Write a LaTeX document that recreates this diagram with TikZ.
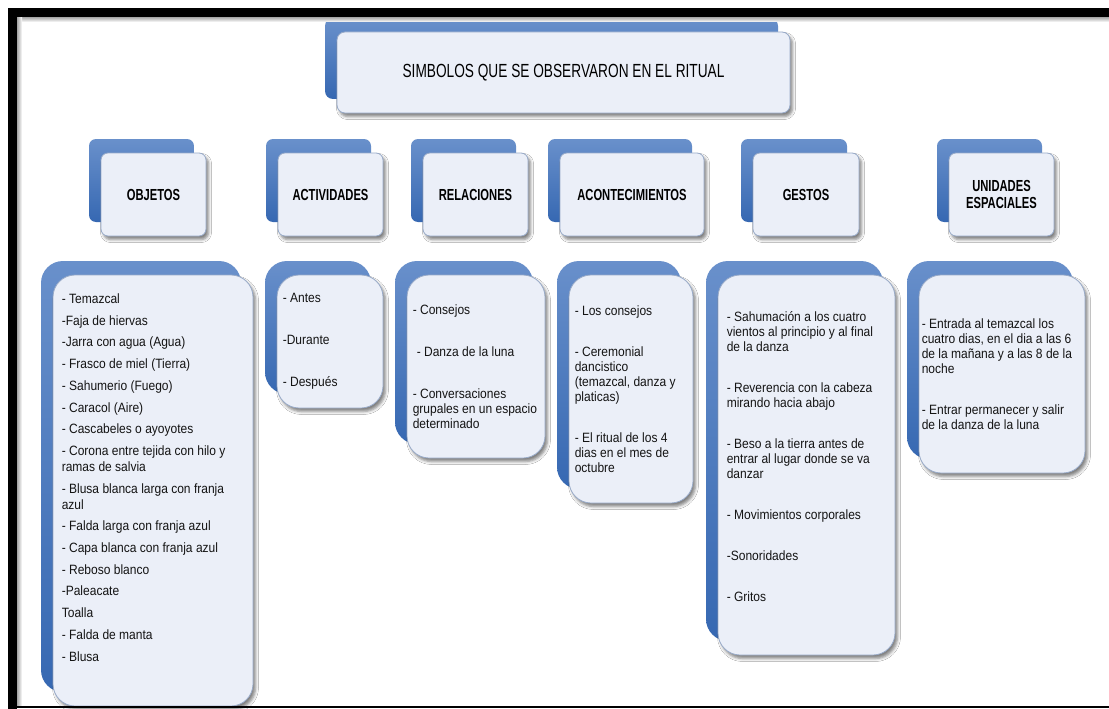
\documentclass[tikz,border=0pt]{standalone}
\usepackage{fontspec}
\setmainfont{Liberation Sans}
\newfontfamily\headfont{Liberation Sans}[FakeStretch=0.72]
\newfontfamily\labelfont{Liberation Sans}[FakeStretch=0.70]
\newfontfamily\listfont{Liberation Sans}[FakeStretch=0.89]
\usetikzlibrary{shadows.blur}

\definecolor{backtop}{HTML}{6990CB}
\definecolor{backbot}{HTML}{3668B2}
\definecolor{frontfill}{HTML}{EBEFF8}
\definecolor{frontline}{HTML}{98AAC8}
\definecolor{connc}{HTML}{A3B5D3}
\definecolor{listc}{HTML}{141414}

\pgfdeclarelayer{bg}
\pgfsetlayers{bg,main}

\tikzset{
  conn/.style={draw=connc, line width=0.9pt},
  backbox/.style={shade, top color=backtop, bottom color=backbot, draw=none, inner sep=0pt},
  frontbox/.style={fill=frontfill, draw=frontline, line width=0.8pt, inner sep=0pt,
    blur shadow={shadow xshift=2.5pt, shadow yshift=-3.5pt, shadow blur radius=3pt, shadow opacity=50}},
  hdtext/.style={font=\headfont\fontsize{19}{22}\selectfont, text=black},
  cattext/.style={font=\labelfont\bfseries\fontsize{16}{17.5}\selectfont, align=center, text=black},
  listtext/.style={font=\listfont\fontsize{13.5}{15}\selectfont, align=left, anchor=west,
    inner sep=0pt, text=listc},
}

% back panel + front panel pair: name, x1, y1, x2, y2, corner radius, front style, text
\newcommand\boxpair[8]{%
  \node[backbox, rounded corners=#6, minimum width={#4pt-#2pt}, minimum height={#5pt-#3pt}]
    (#1b) at ({(#2+#4)/2-12},{(#3+#5)/2-14}) {};
  \node[frontbox, rounded corners=#6, minimum width={#4pt-#2pt}, minimum height={#5pt-#3pt}, #7]
    (#1) at ({(#2+#4)/2},{(#3+#5)/2}) {#8};
}

\begin{document}
\begin{tikzpicture}[x=1pt,y=-1pt]
\useasboundingbox (0,0) rectangle (1109,709);
\fill[white] (0,0) rectangle (1109,709);

% title
\boxpair{hd}{337}{32}{790}{113}{8pt}{hdtext}{SIMBOLOS QUE SE OBSERVARON EN EL RITUAL}

% categories
\boxpair{obj}{101}{153}{206}{236}{7pt}{cattext}{OBJETOS}
\boxpair{act}{278}{153}{383}{236}{7pt}{cattext}{ACTIVIDADES}
\boxpair{rel}{423}{153}{528}{236}{7pt}{cattext}{RELACIONES}
\boxpair{aco}{560}{153}{704}{236}{7pt}{cattext}{ACONTECIMIENTOS}
\boxpair{ges}{753}{153}{859}{236}{7pt}{cattext}{GESTOS}
\boxpair{uni}{949}{153}{1054}{236}{7pt}{cattext}{UNIDADES\\ESPACIALES}

% detail panels
\boxpair{objc}{53}{275}{253}{706}{22pt}{}{}
\boxpair{actc}{277}{275}{383}{408}{22pt}{}{}
\boxpair{relc}{407}{275}{545}{458}{22pt}{}{}
\boxpair{acoc}{569}{275}{693}{503}{22pt}{}{}
\boxpair{gesc}{718}{275}{895}{655}{22pt}{}{}
\boxpair{unic}{919}{275}{1085}{473}{22pt}{}{}

% detail texts
\node[listtext, font=\listfont\fontsize{13.5}{16}\selectfont] (objt) at ([xshift=9pt,yshift=13pt]objc.west)
  {- Temazcal\\[5.7pt]
   -Faja de hiervas\\[5.7pt]
   -Jarra con agua (Agua)\\[5.7pt]
   - Frasco de miel (Tierra)\\[5.7pt]
   - Sahumerio (Fuego)\\[5.7pt]
   - Caracol (Aire)\\[5.7pt]
   - Cascabeles o ayoyotes\\[5.7pt]
   - Corona entre tejida con hilo y\\
   ramas de salvia\\[5.7pt]
   - Blusa blanca larga con franja\\
   azul\\[5.7pt]
   - Falda larga con franja azul\\[5.7pt]
   - Capa blanca con franja azul\\[5.7pt]
   - Reboso blanco\\[5.7pt]
   -Paleacate\\[5.7pt]
   Toalla\\[5.7pt]
   - Falda de manta\\[5.7pt]
   - Blusa};
\node[listtext] (actt) at ([xshift=6pt]actc.west)
  {- Antes\\[27pt]
   -Durante\\[27pt]
   - Después};
\node[listtext] (relt) at ([xshift=6pt]relc.west)
  {- Consejos\\[27pt]
   \hspace*{4pt}- Danza de la luna\\[27pt]
   - Conversaciones\\
   grupales en un espacio\\
   determinado};
\node[listtext] (acot) at ([xshift=6pt]acoc.west)
  {- Los consejos\\[26pt]
   - Ceremonial\\
   dancistico\\
   (temazcal, danza y\\
   platicas)\\[26pt]
   - El ritual de los 4\\
   dias en el mes de\\
   octubre};
\node[listtext] (gest) at ([xshift=9pt,yshift=8pt]gesc.west)
  {- Sahumación a los cuatro\\
   vientos al principio y al final\\
   de la danza\\[26pt]
   - Reverencia con la cabeza\\
   mirando hacia abajo\\[26pt]
   - Beso a la tierra antes de\\
   entrar al lugar donde se va\\
   danzar\\[26pt]
   - Movimientos corporales\\[26pt]
   -Sonoridades\\[26pt]
   - Gritos};
\node[listtext] (unit) at ([xshift=3pt]unic.west)
  {- Entrada al temazcal los\\
   cuatro dias, en el dia a las 6\\
   de la mañana y a las 8 de la\\
   noche\\[26pt]
   - Entrar permanecer y salir\\
   de la danza de la luna};

% connectors, behind the panels
\begin{pgfonlayer}{bg}
  \coordinate (bus) at (0,127);
  \draw[conn] (hdb.south) -- (hdb.south |- bus);
  \draw[conn] (objb.north |- bus) -- (unib.north |- bus);
  \foreach \c in {obj,act,rel,aco,ges,uni} {
    \draw[conn] (\c b.north |- bus) -- (\c b.north);
    \draw[conn] (\c b.south) -- (\c b.south |- \c cb.north);
  }
\end{pgfonlayer}

% page frame
\shade[top color=black!35, bottom color=white] (17,17) rectangle (1109,22);
\shade[left color=black!35, right color=white] (17,17) rectangle (22,705);
\fill[black] (8,8) rectangle (1109,17);
\fill[black] (8,8) rectangle (17,709);
\fill[black] (8,705.5) rectangle (1109,708);
\end{tikzpicture}
\end{document}
